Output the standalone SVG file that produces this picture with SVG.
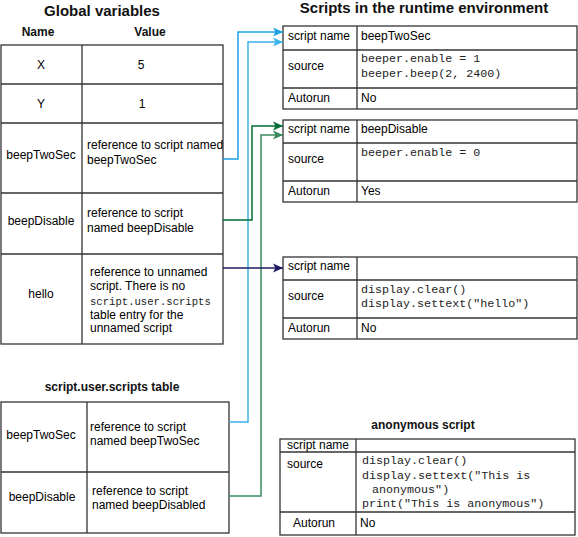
<svg xmlns="http://www.w3.org/2000/svg" width="578" height="537" viewBox="0 0 578 537">
<style>
.t{font-family:"Liberation Sans",Arial,sans-serif;font-size:12px;fill:#000}
.m{font-family:"Liberation Mono","Courier New",monospace;font-size:11.7px;fill:#222}
.h{font-family:"Liberation Sans",Arial,sans-serif;font-weight:bold;fill:#111}
.c{text-anchor:middle}
.cell{fill:#fff;stroke:#333;stroke-width:1.3}
.ln{fill:none;stroke:#333;stroke-width:1.3}
.con{fill:none;stroke-width:1.5}
</style>
<defs>
<marker id="aB1" markerUnits="userSpaceOnUse" markerWidth="12" markerHeight="12" refX="11" refY="6" orient="auto"><path d="M1,1.5 L11,6 L1,10.5 L3.5,6 Z" fill="#1ba1e2"/></marker>
<marker id="aB2" markerUnits="userSpaceOnUse" markerWidth="12" markerHeight="12" refX="11" refY="6" orient="auto"><path d="M1,1.5 L11,6 L1,10.5 L3.5,6 Z" fill="#3bb3ec"/></marker>
<marker id="aG1" markerUnits="userSpaceOnUse" markerWidth="12" markerHeight="12" refX="11" refY="6" orient="auto"><path d="M1,1.5 L11,6 L1,10.5 L3.5,6 Z" fill="#006b33"/></marker>
<marker id="aG2" markerUnits="userSpaceOnUse" markerWidth="12" markerHeight="12" refX="11" refY="6" orient="auto"><path d="M1,1.5 L11,6 L1,10.5 L3.5,6 Z" fill="#3a8a5c"/></marker>
<marker id="aN" markerUnits="userSpaceOnUse" markerWidth="12" markerHeight="12" refX="11" refY="6" orient="auto"><path d="M1,1.5 L11,6 L1,10.5 L3.5,6 Z" fill="#1c1a5e"/></marker>
</defs>

<text class="h c" x="102" y="16" font-size="15">Global variables</text>
<text class="h c" x="424" y="13" font-size="15">Scripts in the runtime environment</text>

<g id="globals">
<text class="h c" x="38" y="36" font-size="12">Name</text>
<text class="h c" x="150" y="36" font-size="12">Value</text>
<rect class="cell" x="1" y="45" width="222" height="299"/>
<line class="ln" x1="82" y1="45" x2="82" y2="344"/>
<line class="ln" x1="1" y1="84" x2="223" y2="84"/>
<line class="ln" x1="1" y1="123" x2="223" y2="123"/>
<line class="ln" x1="1" y1="193" x2="223" y2="193"/>
<line class="ln" x1="1" y1="254" x2="223" y2="254"/>
</g>
<g id="g-x">
<text class="t c" x="41" y="69">X</text>
<text class="t c" x="141" y="69">5</text>
</g>
<g id="g-y">
<text class="t c" x="41" y="108">Y</text>
<text class="t c" x="142" y="108">1</text>
</g>
<g id="g-beepTwoSec">
<text class="t c" x="41" y="159">beepTwoSec</text>
<text class="t" x="87" y="149">reference to script named</text>
<text class="t" x="87" y="164">beepTwoSec</text>
</g>
<g id="g-beepDisable">
<text class="t c" x="41" y="225">beepDisable</text>
<text class="t" x="87" y="217">reference to script</text>
<text class="t" x="87" y="232">named beepDisable</text>
</g>
<g id="g-hello">
<text class="t c" x="41" y="298">hello</text>
<text class="t" x="90" y="276">reference to unnamed</text>
<text class="t" x="90" y="290">script. There is no</text>
<text class="m" x="90" y="305" style="font-size:10.6px">script.user.scripts</text>
<text class="t" x="90" y="319">table entry for the</text>
<text class="t" x="90" y="332">unnamed script</text>
</g>

<g id="sus-table">
<text class="h c" x="112" y="391" font-size="12">script.user.scripts table</text>
<rect class="cell" x="1" y="402" width="228" height="131"/>
<line class="ln" x1="87" y1="402" x2="87" y2="533"/>
<line class="ln" x1="1" y1="472" x2="229" y2="472"/>
</g>
<g id="s-beepTwoSec">
<text class="t c" x="41" y="439">beepTwoSec</text>
<text class="t" x="90" y="431">reference to script</text>
<text class="t" x="90" y="445">named beepTwoSec</text>
</g>
<g id="s-beepDisable">
<text class="t c" x="42" y="501">beepDisable</text>
<text class="t" x="92" y="495">reference to script</text>
<text class="t" x="92" y="509">named beepDisabled</text>
</g>

<g id="script-beepTwoSec">
<rect class="cell" x="283" y="26" width="294" height="83"/>
<line class="ln" x1="357" y1="26" x2="357" y2="109"/>
<line class="ln" x1="283" y1="50" x2="577" y2="50"/>
<line class="ln" x1="283" y1="88" x2="577" y2="88"/>
<text class="t" x="288" y="40">script name</text>
<text class="t" x="361" y="40">beepTwoSec</text>
<text class="t" x="288" y="70">source</text>
<text class="m" x="361" y="62">beeper.enable = 1</text>
<text class="m" x="361" y="77">beeper.beep(2, 2400)</text>
<text class="t" x="288" y="102">Autorun</text>
<text class="t" x="361" y="102">No</text>
</g>

<g id="script-beepDisable">
<rect class="cell" x="283" y="120" width="294" height="82"/>
<line class="ln" x1="357" y1="120" x2="357" y2="202"/>
<line class="ln" x1="283" y1="143" x2="577" y2="143"/>
<line class="ln" x1="283" y1="181" x2="577" y2="181"/>
<text class="t" x="288" y="133">script name</text>
<text class="t" x="361" y="133">beepDisable</text>
<text class="t" x="288" y="163">source</text>
<text class="m" x="361" y="156">beeper.enable = 0</text>
<text class="t" x="288" y="195">Autorun</text>
<text class="t" x="361" y="195">Yes</text>
</g>

<g id="script-hello">
<rect class="cell" x="283" y="257" width="294" height="82"/>
<line class="ln" x1="357" y1="257" x2="357" y2="339"/>
<line class="ln" x1="283" y1="280" x2="577" y2="280"/>
<line class="ln" x1="283" y1="318" x2="577" y2="318"/>
<text class="t" x="288" y="270">script name</text>
<text class="t" x="288" y="300">source</text>
<text class="m" x="361" y="293">display.clear()</text>
<text class="m" x="361" y="307">display.settext("hello")</text>
<text class="t" x="288" y="332">Autorun</text>
<text class="t" x="361" y="332">No</text>
</g>

<g id="script-anonymous">
<text class="h c" x="423" y="429" font-size="12">anonymous script</text>
<rect class="cell" x="280" y="439" width="295" height="96" stroke="#555"/>
<line class="ln" x1="356" y1="439" x2="356" y2="535" stroke="#555"/>
<line class="ln" x1="280" y1="452" x2="575" y2="452"/>
<line class="ln" x1="280" y1="512" x2="575" y2="512"/>
<text class="t" x="287" y="449">script name</text>
<text class="t" x="287" y="468">source</text>
<text class="m" x="362" y="464">display.clear()</text>
<text class="m" x="362" y="479">display.settext("This is</text>
<text class="m" x="372" y="493">anonymous")</text>
<text class="m" x="362" y="507">print("This is anonymous")</text>
<text class="t" x="293" y="527">Autorun</text>
<text class="t" x="360" y="527">No</text>
</g>

<g id="connectors">
<path class="con" d="M223,159 H238 V32 H283" stroke="#1ba1e2" marker-end="url(#aB1)"/>
<path class="con" d="M229,422 H248 V42 H283" stroke="#3bb3ec" marker-end="url(#aB2)"/>
<path class="con" d="M223,220 H252 V126 H283" stroke="#006b33" marker-end="url(#aG1)"/>
<path class="con" d="M229,496 H261 V135 H283" stroke="#3a8a5c" marker-end="url(#aG2)"/>
<path class="con" d="M223,268 H283" stroke="#1c1a5e" marker-end="url(#aN)"/>
</g>
</svg>
